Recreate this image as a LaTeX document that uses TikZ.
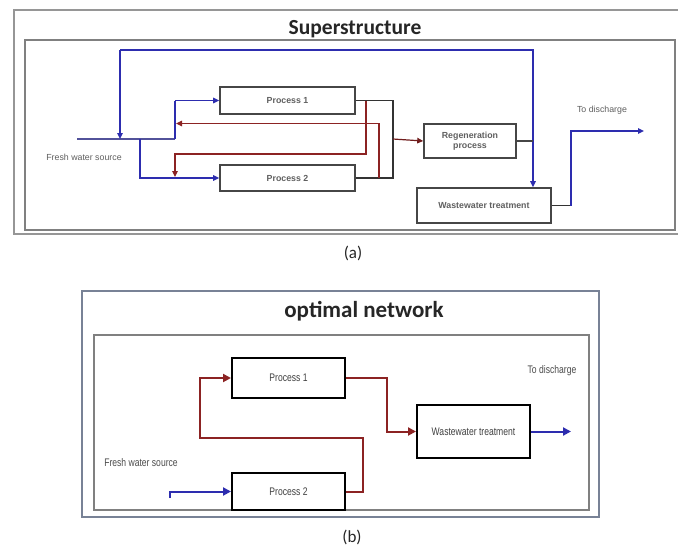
\documentclass[tikz,border=0pt]{standalone}
\usepackage{fontspec}
\setmainfont{Liberation Sans}
\newfontfamily\headfont{Carlito}
\usetikzlibrary{arrows.meta}
\definecolor{flowblue}{RGB}{45,45,175}
\definecolor{flowred}{RGB}{140,35,35}
\definecolor{framegray}{RGB}{150,150,150}
\definecolor{frameblue}{RGB}{120,130,150}
\definecolor{boxline}{RGB}{70,70,70}
\definecolor{labelgray}{RGB}{95,95,95}
\tikzset{
  x=1pt, y={(0pt,-1pt)},
  tip/.style={-{Triangle[length=6pt,width=5.5pt]}},
  bigtip/.style={-{Triangle[length=8pt,width=8pt]}},
  bluepipe/.style={draw=flowblue, line width=1.8pt},
  redpipe/.style={draw=flowred, line width=1.2pt},
  darkpipe/.style={draw=black!80, line width=1.2pt},
  unitA/.style={draw=boxline, line width=1.6pt, fill=white, inner sep=0pt,
    text=labelgray, font=\fontsize{8.8}{10.5}\selectfont\bfseries, align=center},
  unitB/.style={draw=black, line width=2pt, fill=white, inner sep=0pt,
    text=black!75, align=center},
  smalltxt/.style={text=labelgray, font=\fontsize{8.8}{10}\selectfont, inner sep=0pt},
  narrowtxt/.style={text=black!70, inner sep=0pt},
  headtxt/.style={font=\headfont\bfseries, text=black!85, inner sep=0pt},
  captxt/.style={font=\headfont\fontsize{17}{18}\selectfont, text=black!85, inner sep=0pt}
}
\newcommand{\narrow}[1]{\scalebox{0.78}[1]{\fontsize{11}{12}\selectfont #1}}
\begin{document}
\begin{tikzpicture}
\useasboundingbox (0,0) rectangle (678,547);
\fill[white] (0,0) rectangle (678,547);

% ---------- (a) superstructure ----------
\draw[framegray, line width=1.2pt] (690,10) -- (14,10) -- (14,234) -- (690,234);
\draw[gray, line width=1.6pt] (25,40) rectangle (675,230);
\node[headtxt, font=\headfont\bfseries\fontsize{21.5}{22}\selectfont] (titleA) at (355,29) {Superstructure};

\node[unitA, minimum width=135pt, minimum height=27pt] (p1a) at (287.5,100.5) {Process 1};
\node[unitA, minimum width=135pt, minimum height=26pt] (p2a) at (287.5,178) {Process 2};
\node[unitA, minimum width=92pt, minimum height=34pt] (rega) at (470,141) {Regeneration\\process};
\node[unitA, minimum width=134pt, minimum height=35pt] (wwa) at (484,205.5) {Wastewater treatment};

\coordinate (fwa) at (77,139);
\coordinate (toptl) at (120,50);
\coordinate (toptr) at (533,50);
\coordinate (fjoin) at (120,139);
\coordinate (riser) at (175,139);
\coordinate (dropper) at (140,139);
\coordinate (mixA) at (393,139);
\coordinate (regout) at (533,141);
\coordinate (wwbend) at (571,205.5);
\coordinate (dischA) at (644,131);

\node[smalltxt] (fwtxtA) at (84,157) {Fresh water source};
\node[smalltxt] (dischtxtA) at (602,110) {To discharge};
\node[captxt] (capA) at (353,253) {(a)};

% fresh water distribution
\draw[draw=flowblue!55!gray, line width=1.8pt] (fwa) -- (riser);
\draw[bluepipe] (riser) -- (175,100.5);
\draw[bluepipe, tip] (175,100.5) -- (p1a.west);
\draw[bluepipe, tip] (dropper) |- (p2a.west);
% bypass line over the top
\draw[bluepipe, tip] (toptl) -- (toptr) -- (wwa.north -| toptr);
\draw[bluepipe, tip] (toptl) -- (fjoin);

% outlets of the two processes to regeneration
\draw[darkpipe] (p1a.east) -- (393,100.5) -- (393,178) -- (p2a.east);
\draw[draw=flowred!80!black, line width=1.2pt, tip] (mixA) -- (rega.west);

% recycle lines
\draw[redpipe, tip] (379,178) -- (379,123.5) -- (176,123.5);
\draw[redpipe, tip] (366,100.5) -- (366,154) -- (175,154) -- (175,177);

% regeneration outlet and treatment outlet
\draw[darkpipe, draw=boxline] (rega.east) -- (regout);
\draw[darkpipe] (wwa.east) -- (wwbend);
\draw[bluepipe, tip] (wwbend) -- (571,131) -- (dischA);

% ---------- (b) optimal network ----------
\draw[frameblue, line width=1.3pt] (82,291) rectangle (599,517);
\draw[gray, line width=1.3pt] (94,335) rectangle (589,510);
\node[headtxt, font=\headfont\bfseries\fontsize{23}{24}\selectfont] (titleB) at (364,311) {optimal network};

\node[unitB, minimum width=113pt, minimum height=40pt] (p1b) at (288.5,378) {\narrow{Process 1}};
\node[unitB, minimum width=113pt, minimum height=37pt] (p2b) at (288.5,491.5) {\narrow{Process 2}};
\node[unitB, minimum width=113pt, minimum height=53pt] (wwb) at (473.5,431.5) {\narrow{Wastewater treatment}};

\coordinate (fwb) at (170,498);
\coordinate (dischB) at (571,431.5);

\node[narrowtxt] (fwtxtB) at (141,463) {\narrow{Fresh water source}};
\node[narrowtxt] (dischtxtB) at (552,371) {\narrow{To discharge}};
\node[captxt] (capB) at (352,537) {(b)};

\draw[flowred, line width=2pt, bigtip] (p2b.east) -- (363,491.5) -- (363,438) -- (200,438) -- (200,378) -- (p1b.west);
\draw[flowred, line width=2pt, bigtip] (p1b.east) -- (387,378) -- (387,431.5) -- (wwb.west);
\draw[draw=flowblue, line width=2pt, bigtip] (wwb.east) -- (dischB);
\draw[draw=flowblue, line width=2pt, bigtip] (fwb) -- (170,491.5) -- (p2b.west);
\end{tikzpicture}
\end{document}
